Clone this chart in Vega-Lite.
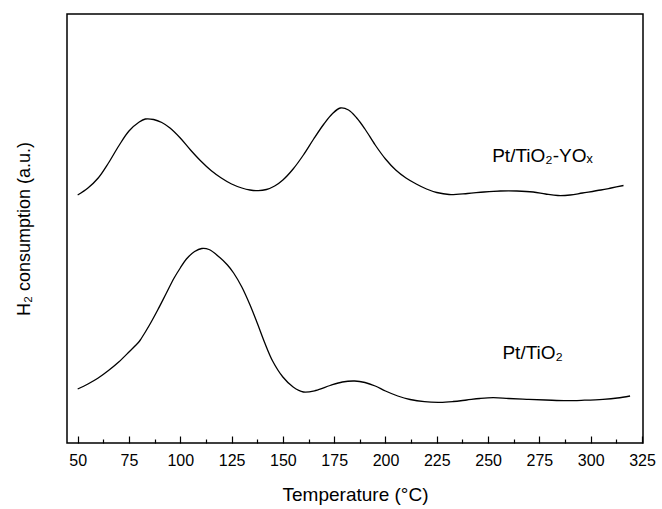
{
  "$schema": "https://vega.github.io/schema/vega-lite/v6.json",
  "width": 576,
  "height": 429,
  "autosize": {"type": "none"},
  "padding": {"left": 67, "top": 14, "right": 19, "bottom": 66},
  "background": "#ffffff",
  "config": {
    "font": "Liberation Sans",
    "view": {"stroke": "#000000", "strokeWidth": 1.5},
    "axis": {"grid": false, "domain": false, "labelColor": "#000000", "titleColor": "#000000", "tickColor": "#000000", "labelFont": "Liberation Sans", "titleFont": "Liberation Sans", "titleFontWeight": "normal"}
  },
  "datasets": {
    "curves": [
      {"series": "Pt/TiO2-YOx", "T": 50, "v": 248},
      {"series": "Pt/TiO2-YOx", "T": 55, "v": 255},
      {"series": "Pt/TiO2-YOx", "T": 60, "v": 265},
      {"series": "Pt/TiO2-YOx", "T": 65, "v": 280},
      {"series": "Pt/TiO2-YOx", "T": 70, "v": 297},
      {"series": "Pt/TiO2-YOx", "T": 75, "v": 312},
      {"series": "Pt/TiO2-YOx", "T": 80, "v": 321},
      {"series": "Pt/TiO2-YOx", "T": 83, "v": 324},
      {"series": "Pt/TiO2-YOx", "T": 87, "v": 323.5},
      {"series": "Pt/TiO2-YOx", "T": 91, "v": 320.5},
      {"series": "Pt/TiO2-YOx", "T": 95, "v": 315},
      {"series": "Pt/TiO2-YOx", "T": 100, "v": 305},
      {"series": "Pt/TiO2-YOx", "T": 105, "v": 293},
      {"series": "Pt/TiO2-YOx", "T": 110, "v": 282},
      {"series": "Pt/TiO2-YOx", "T": 115, "v": 272.5},
      {"series": "Pt/TiO2-YOx", "T": 120, "v": 265},
      {"series": "Pt/TiO2-YOx", "T": 125, "v": 259},
      {"series": "Pt/TiO2-YOx", "T": 130, "v": 255},
      {"series": "Pt/TiO2-YOx", "T": 134, "v": 253},
      {"series": "Pt/TiO2-YOx", "T": 138, "v": 252.3},
      {"series": "Pt/TiO2-YOx", "T": 142, "v": 253.5},
      {"series": "Pt/TiO2-YOx", "T": 146, "v": 257},
      {"series": "Pt/TiO2-YOx", "T": 150, "v": 263},
      {"series": "Pt/TiO2-YOx", "T": 155, "v": 274},
      {"series": "Pt/TiO2-YOx", "T": 160, "v": 288},
      {"series": "Pt/TiO2-YOx", "T": 165, "v": 304},
      {"series": "Pt/TiO2-YOx", "T": 170, "v": 319},
      {"series": "Pt/TiO2-YOx", "T": 174, "v": 329},
      {"series": "Pt/TiO2-YOx", "T": 178, "v": 335},
      {"series": "Pt/TiO2-YOx", "T": 182, "v": 333},
      {"series": "Pt/TiO2-YOx", "T": 186, "v": 325},
      {"series": "Pt/TiO2-YOx", "T": 190, "v": 314},
      {"series": "Pt/TiO2-YOx", "T": 195, "v": 298},
      {"series": "Pt/TiO2-YOx", "T": 200, "v": 284},
      {"series": "Pt/TiO2-YOx", "T": 205, "v": 273},
      {"series": "Pt/TiO2-YOx", "T": 210, "v": 265},
      {"series": "Pt/TiO2-YOx", "T": 215, "v": 259},
      {"series": "Pt/TiO2-YOx", "T": 220, "v": 254},
      {"series": "Pt/TiO2-YOx", "T": 225, "v": 250.5},
      {"series": "Pt/TiO2-YOx", "T": 231, "v": 248.5},
      {"series": "Pt/TiO2-YOx", "T": 240, "v": 249.5},
      {"series": "Pt/TiO2-YOx", "T": 248, "v": 251},
      {"series": "Pt/TiO2-YOx", "T": 256, "v": 252},
      {"series": "Pt/TiO2-YOx", "T": 264, "v": 252},
      {"series": "Pt/TiO2-YOx", "T": 272, "v": 251},
      {"series": "Pt/TiO2-YOx", "T": 278, "v": 249},
      {"series": "Pt/TiO2-YOx", "T": 284, "v": 247.5},
      {"series": "Pt/TiO2-YOx", "T": 290, "v": 248},
      {"series": "Pt/TiO2-YOx", "T": 296, "v": 250},
      {"series": "Pt/TiO2-YOx", "T": 305, "v": 253},
      {"series": "Pt/TiO2-YOx", "T": 310, "v": 255},
      {"series": "Pt/TiO2-YOx", "T": 316, "v": 257.5},
      {"series": "Pt/TiO2", "T": 50, "v": 54},
      {"series": "Pt/TiO2", "T": 55, "v": 59},
      {"series": "Pt/TiO2", "T": 60, "v": 65},
      {"series": "Pt/TiO2", "T": 65, "v": 72.5},
      {"series": "Pt/TiO2", "T": 70, "v": 81},
      {"series": "Pt/TiO2", "T": 75, "v": 91},
      {"series": "Pt/TiO2", "T": 80, "v": 101.5},
      {"series": "Pt/TiO2", "T": 81, "v": 104.5},
      {"series": "Pt/TiO2", "T": 85, "v": 118},
      {"series": "Pt/TiO2", "T": 89, "v": 133},
      {"series": "Pt/TiO2", "T": 93, "v": 149},
      {"series": "Pt/TiO2", "T": 97, "v": 165},
      {"series": "Pt/TiO2", "T": 100, "v": 175},
      {"series": "Pt/TiO2", "T": 103, "v": 184},
      {"series": "Pt/TiO2", "T": 107, "v": 191.5},
      {"series": "Pt/TiO2", "T": 110.5, "v": 194.5},
      {"series": "Pt/TiO2", "T": 114, "v": 193.5},
      {"series": "Pt/TiO2", "T": 119, "v": 186},
      {"series": "Pt/TiO2", "T": 123, "v": 178},
      {"series": "Pt/TiO2", "T": 126, "v": 170},
      {"series": "Pt/TiO2", "T": 130, "v": 156},
      {"series": "Pt/TiO2", "T": 134, "v": 138},
      {"series": "Pt/TiO2", "T": 137.5, "v": 120},
      {"series": "Pt/TiO2", "T": 141, "v": 101},
      {"series": "Pt/TiO2", "T": 145, "v": 82},
      {"series": "Pt/TiO2", "T": 150, "v": 66},
      {"series": "Pt/TiO2", "T": 155, "v": 56},
      {"series": "Pt/TiO2", "T": 160, "v": 51},
      {"series": "Pt/TiO2", "T": 166, "v": 52.5},
      {"series": "Pt/TiO2", "T": 173, "v": 57.5},
      {"series": "Pt/TiO2", "T": 179, "v": 61},
      {"series": "Pt/TiO2", "T": 185, "v": 62},
      {"series": "Pt/TiO2", "T": 190, "v": 60.5},
      {"series": "Pt/TiO2", "T": 195, "v": 57},
      {"series": "Pt/TiO2", "T": 200, "v": 52},
      {"series": "Pt/TiO2", "T": 206, "v": 47},
      {"series": "Pt/TiO2", "T": 212, "v": 43.5},
      {"series": "Pt/TiO2", "T": 219, "v": 41.3},
      {"series": "Pt/TiO2", "T": 226.6, "v": 40.7},
      {"series": "Pt/TiO2", "T": 233, "v": 41.5},
      {"series": "Pt/TiO2", "T": 239.6, "v": 43},
      {"series": "Pt/TiO2", "T": 246, "v": 44.5},
      {"series": "Pt/TiO2", "T": 252.5, "v": 45.3},
      {"series": "Pt/TiO2", "T": 260, "v": 44.5},
      {"series": "Pt/TiO2", "T": 268.8, "v": 43.7},
      {"series": "Pt/TiO2", "T": 278, "v": 43},
      {"series": "Pt/TiO2", "T": 288.3, "v": 42.3},
      {"series": "Pt/TiO2", "T": 297, "v": 42.8},
      {"series": "Pt/TiO2", "T": 306, "v": 43.7},
      {"series": "Pt/TiO2", "T": 313, "v": 45},
      {"series": "Pt/TiO2", "T": 319.2, "v": 47}
    ],
    "labels": [
      {"T": 252, "v": 287.5, "label": "Pt/TiO₂-YOₓ"},
      {"T": 257, "v": 90, "label": "Pt/TiO₂"}
    ]
  },
  "layer": [
    {
      "data": {"name": "curves"},
      "mark": {"type": "line", "interpolate": "catmull-rom", "color": "#000000", "strokeWidth": 1.3},
      "encoding": {
        "x": {"field": "T", "type": "quantitative", "scale": {"domain": [44.8, 325.5], "nice": false, "zero": false},
              "axis": {"orient": "bottom", "values": [50, 75, 100, 125, 150, 175, 200, 225, 250, 275, 300, 325], "tickSize": -7, "tickWidth": 1.2, "labelFontSize": 16, "labelPadding": 16, "title": "Temperature (°C)", "titleFontSize": 19, "titlePadding": 17}},
        "y": {"field": "v", "type": "quantitative", "scale": {"domain": [0, 429], "nice": false, "zero": false},
              "axis": {"ticks": false, "labels": false, "title": "H₂ consumption (a.u.)", "titleFontSize": 18, "titlePadding": 34}},
        "detail": {"field": "series"}
      }
    },
    {
      "data": {"name": "labels"},
      "mark": {"type": "text", "align": "left", "baseline": "middle", "fontSize": 19, "color": "#000000", "font": "Liberation Sans"},
      "encoding": {
        "x": {"field": "T", "type": "quantitative",
              "axis": {"orient": "bottom", "values": [62.5, 87.5, 112.5, 137.5, 162.5, 187.5, 212.5, 237.5, 262.5, 287.5, 312.5], "tickSize": -4, "tickWidth": 1.2, "labels": false, "title": null}},
        "y": {"field": "v", "type": "quantitative"},
        "text": {"field": "label"}
      }
    }
  ],
  "resolve": {"axis": {"x": "independent"}}
}
